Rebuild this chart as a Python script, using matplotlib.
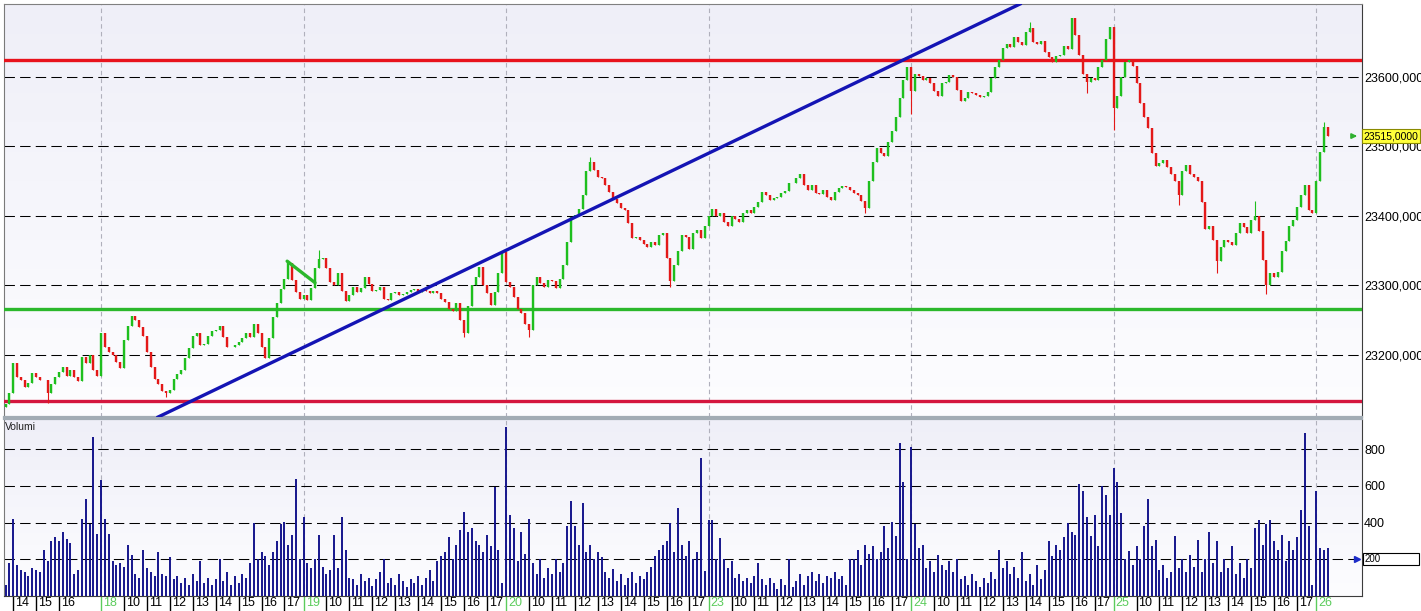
import numpy as np
import matplotlib.pyplot as plt
from matplotlib.colors import LinearSegmentedColormap
from matplotlib.transforms import blended_transform_factory, offset_copy
from matplotlib.patches import Rectangle

plt.rcParams['font.family'] = ['Liberation Sans Narrow', 'Liberation Sans', 'DejaVu Sans']

# sessions shown, 10-minute bars, 53 slots per session (9:00 -> 17:50)
SLOTS = 53
days = ['17', '18', '19', '20', '23', '24', '25', '26']
first_slot = [28, 0, 0, 0, 0, 0, 0, 0]
hour_labels = ['10', '11', '12', '13', '14', '15', '16', '17']
first_day_hours = ['14', '15', '16']

open_first = 23125

close_17 = [23130, 23145, 23188, 23168, 23164, 23154, 23160, 23174, 23168, 23164,
            23164, 23145, 23158, 23168, 23176, 23183, 23170, 23178, 23168, 23162,
            23197, 23188, 23200, 23178, 23170]
close_18 = [23232, 23212, 23205, 23200, 23190, 23182, 23222, 23242, 23256, 23250,
            23240, 23228, 23205, 23183, 23166, 23158, 23148, 23145, 23150, 23165,
            23172, 23178, 23195, 23210, 23228, 23232, 23214, 23216, 23228, 23234,
            23236, 23242, 23226, 23212, 23212, 23215, 23219, 23224, 23232, 23226,
            23244, 23232, 23212, 23196, 23225, 23255, 23275, 23295, 23310, 23332,
            23308, 23290, 23280]
close_19 = [23287, 23279, 23296, 23325, 23338, 23340, 23325, 23305, 23300, 23318,
            23292, 23277, 23287, 23298, 23290, 23296, 23312, 23302, 23292, 23293,
            23298, 23281, 23279, 23289, 23291, 23286, 23288, 23290, 23293, 23295,
            23290, 23294, 23292, 23289, 23292, 23289, 23280, 23276, 23266, 23264,
            23275, 23250, 23232, 23270, 23300, 23312, 23326, 23300, 23289, 23272,
            23290, 23318, 23348]
close_20 = [23305, 23298, 23284, 23266, 23260, 23245, 23236, 23300, 23312, 23304,
            23298, 23308, 23306, 23296, 23310, 23330, 23362, 23398, 23402, 23410,
            23430, 23465, 23478, 23466, 23456, 23454, 23444, 23434, 23424, 23419,
            23412, 23408, 23390, 23368, 23370, 23365, 23360, 23355, 23362, 23358,
            23372, 23376, 23340, 23306, 23330, 23350, 23372, 23370, 23353, 23376,
            23380, 23368, 23385]
close_23 = [23400, 23410, 23400, 23404, 23392, 23386, 23400, 23396, 23392, 23404,
            23409, 23405, 23413, 23420, 23435, 23430, 23423, 23426, 23428, 23433,
            23436, 23448, 23447, 23455, 23461, 23445, 23437, 23444, 23433, 23431,
            23437, 23428, 23423, 23435, 23440, 23443, 23442, 23437, 23433, 23430,
            23422, 23412, 23450, 23478, 23498, 23490, 23486, 23506, 23522, 23543,
            23570, 23596, 23614]
close_24 = [23580, 23605, 23602, 23596, 23598, 23591, 23580, 23572, 23592, 23593,
            23603, 23600, 23581, 23566, 23570, 23579, 23577, 23574, 23571, 23572,
            23578, 23598, 23614, 23625, 23642, 23648, 23643, 23658, 23650, 23646,
            23665, 23670, 23650, 23648, 23652, 23636, 23629, 23622, 23630, 23632,
            23645, 23640, 23685, 23660, 23632, 23605, 23593, 23598, 23595, 23615,
            23625, 23655, 23672]
close_25 = [23555, 23572, 23600, 23621, 23624, 23616, 23592, 23562, 23542, 23527,
            23490, 23472, 23476, 23480, 23471, 23461, 23450, 23430, 23465, 23474,
            23461, 23456, 23450, 23420, 23382, 23385, 23365, 23335, 23355, 23366,
            23362, 23358, 23376, 23390, 23384, 23376, 23394, 23400, 23378, 23336,
            23300, 23318, 23312, 23320, 23350, 23364, 23385, 23394, 23413, 23430,
            23445, 23408, 23404]
close_26 = [23450, 23492, 23528, 23515]

# bars whose wicks reach clearly beyond the body (sequence index, price)
high_idx = [82, 153, 268, 327, 345]
high_val = [23351, 23485, 23679, 23422, 23535]
low_idx = [11, 42, 120, 137, 174, 225, 237, 283, 290, 307, 317, 330]
low_val = [23131, 23140, 23226, 23226, 23298, 23405, 23547, 23577, 23524, 23416, 23318, 23288]

vol_17 = [60, 180, 420, 170, 140, 130, 110, 150, 140, 130, 250, 190, 300, 320, 300,
          350, 310, 290, 120, 140, 420, 530, 390, 865, 340]
vol_18 = [630, 420, 340, 190, 170, 180, 160, 280, 225, 120, 100, 250, 150, 130, 110,
          240, 120, 110, 215, 90, 110, 70, 100, 60, 120, 80, 190, 70, 100, 60,
          90, 200, 80, 130, 60, 110, 70, 120, 100, 180, 400, 200, 240, 220, 170,
          240, 300, 390, 405, 280, 330, 640, 200]
vol_19 = [430, 180, 150, 200, 330, 160, 120, 140, 330, 150, 430, 250, 100, 90, 60,
          120, 80, 100, 55, 90, 130, 200, 70, 100, 60, 120, 80, 50, 90, 70,
          110, 60, 100, 140, 80, 190, 220, 240, 320, 200, 280, 360, 460, 350, 370,
          300, 280, 240, 330, 270, 595, 250, 70]
vol_20 = [920, 440, 370, 190, 350, 230, 420, 180, 120, 200, 100, 150, 120, 200, 130,
          180, 380, 520, 380, 280, 505, 240, 280, 200, 240, 210, 130, 100, 145, 80,
          120, 60, 100, 130, 70, 110, 90, 130, 160, 220, 250, 280, 300, 400, 240,
          480, 280, 220, 300, 200, 240, 750, 135]
vol_23 = [415, 415, 200, 315, 200, 150, 190, 100, 120, 80, 100, 70, 110, 180, 90,
          60, 100, 70, 40, 90, 60, 200, 50, 80, 120, 60, 110, 130, 80, 120,
          70, 110, 100, 130, 90, 110, 60, 200, 200, 250, 170, 280, 230, 270, 200,
          240, 380, 260, 405, 325, 835, 620, 200]
vol_24 = [810, 395, 260, 280, 150, 190, 130, 225, 170, 140, 190, 130, 200, 90, 110,
          60, 120, 80, 50, 100, 70, 130, 90, 250, 150, 190, 120, 160, 100, 240,
          80, 120, 60, 170, 90, 140, 300, 220, 280, 250, 320, 400, 350, 330, 610,
          575, 430, 325, 440, 270, 600, 550, 440]
vol_25 = [700, 620, 450, 200, 245, 170, 270, 200, 380, 530, 270, 305, 140, 170, 100,
          130, 325, 150, 200, 130, 225, 160, 305, 130, 200, 350, 180, 300, 130, 200,
          150, 270, 120, 180, 100, 200, 150, 370, 415, 280, 390, 415, 300, 250, 330,
          190, 300, 250, 320, 470, 890, 380, 60]
vol_26 = [575, 260, 250, 260]

# drawn lines: support / resistance levels, trendline, small pattern line
resist_top = 23625
support_bottom = 23134
support_green = 23266
trend_x = [68.4, 293.5]
trend_y = [23112, 23705]
flag_x = [101.7, 109.0]
flag_y = [23335, 23304]
last_price = 23515
last_volume = 200

price_ticks = [23200, 23300, 23400, 23500, 23600]
volume_ticks = [400, 600, 800]

closes_by_day = [close_17, close_18, close_19, close_20, close_23, close_24, close_25, close_26]
vols_by_day = [vol_17, vol_18, vol_19, vol_20, vol_23, vol_24, vol_25, vol_26]

x = []
for d, cl in enumerate(closes_by_day):
    x += [d * SLOTS + first_slot[d] + k for k in range(len(cl))]
x = np.array(x)
close = np.array(sum(closes_by_day, []), dtype=float)
vol = np.array(sum(vols_by_day, []), dtype=float)
opn = np.concatenate([[open_first], close[:-1]])
high = np.maximum(opn, close)
low = np.minimum(opn, close)
high[high_idx] = high_val
low[low_idx] = low_val
up = close >= opn

W, H = 1421, 611
fig = plt.figure(figsize=(W / 100, H / 100), dpi=100)
ax_p = fig.add_axes([4 / W, 1 - 417 / H, 1358 / W, 413 / H])
ax_v = fig.add_axes([4 / W, 1 - 596 / H, 1358 / W, 177 / H])

xlim = (27.6, 383.0)
bg = LinearSegmentedColormap.from_list('bg', ['#efeff8', '#fdfdff'])
for ax in (ax_p, ax_v):
    ax.imshow(np.linspace(0, 1, 256).reshape(-1, 1), cmap=bg, extent=[0, 1, 0, 1],
              transform=ax.transAxes, aspect='auto', zorder=0)
    ax.set_xlim(*xlim)
    ax.set_xticks([])
    ax.yaxis.tick_right()
    ax.tick_params(axis='y', length=0, pad=1.5, labelsize=9)
    for d in range(1, len(days)):
        ax.axvline(d * SLOTS, color='#b0b0bc', lw=0.8, dashes=(4, 3), zorder=1)
    ax.spines['left'].set_color('#7a7a7a')
    ax.spines['right'].set_color('#3c3c3c')

# price panel
ax_p.set_ylim(23110.8, 23705)
ax_p.set_yticks(price_ticks)
ax_p.set_yticklabels([f'{v},0000' for v in price_ticks])
for v in price_ticks:
    ax_p.axhline(v, color='black', lw=0.75, dashes=(10, 5), zorder=1)
ax_p.spines['top'].set_color('#808080')
ax_p.spines['bottom'].set_color('#a2acb4')
ax_p.spines['bottom'].set_linewidth(1.6)

ax_p.axhline(resist_top, color='#e8121c', lw=2.4, zorder=3)
ax_p.axhline(support_bottom, color='#d4163e', lw=2.4, zorder=3)
ax_p.axhline(support_green, color='#2cb82c', lw=2.4, zorder=3)

green, red = '#1ebf1e', '#e31818'
cols = np.where(up, green, red)
ax_p.vlines(x, low, high, colors=cols, lw=0.8, zorder=4)
ax_p.vlines(x, np.minimum(opn, close), np.maximum(opn, close), colors=cols, lw=1.7, zorder=4)

ax_p.axline((trend_x[0], trend_y[0]), (trend_x[1], trend_y[1]), color='#1414b4', lw=2.4, zorder=5)
ax_p.plot(flag_x, flag_y, color='#2cb82c', lw=2.4, zorder=5, solid_capstyle='round')

# last price tag
ax_p.annotate('', xy=(0.9985, last_price), xytext=(0.9915, last_price),
              xycoords=('axes fraction', 'data'),
              arrowprops=dict(arrowstyle='-|>', color='#30b030', lw=1.4, mutation_scale=7))
ax_p.text(1.0012, last_price, f'{last_price},0000', transform=ax_p.get_yaxis_transform(),
          fontsize=7.5, va='center', ha='left', zorder=6,
          bbox=dict(boxstyle='square,pad=0.15', fc='#ffff3a', ec='#8a8a00', lw=0.8))

# volume panel
ax_v.set_ylim(0, 965)
ax_v.set_yticks(volume_ticks)
ax_v.set_yticklabels([str(v) for v in volume_ticks])
for v in volume_ticks + [last_volume]:
    ax_v.axhline(v, color='black', lw=0.75, dashes=(10, 5), zorder=1)
ax_v.vlines(x, 0, vol, color='#15158c', lw=1.4, zorder=3)
ax_v.spines['top'].set_color('#a2acb4')
ax_v.spines['top'].set_linewidth(1.6)
ax_v.spines['bottom'].set_color('#3c3c3c')
ax_v.text(0.0008, 0.955, 'Volumi', transform=ax_v.transAxes, fontsize=7.5,
          va='center', ha='left', color='#202020')

yt = ax_v.get_yaxis_transform()
ax_v.plot([1.0], [last_volume], marker='>', color='#1c2cc8', markersize=5,
          transform=offset_copy(yt, fig=fig, x=-5, y=0, units='dots'), clip_on=False)
ax_v.add_patch(Rectangle((1.0007, last_volume - 33), 0.0412, 66, transform=yt,
                         fc='white', ec='black', lw=0.8, clip_on=False, zorder=6))
ax_v.text(1.0017, last_volume, str(last_volume), transform=yt, fontsize=7,
          va='center', ha='left', zorder=7)

# time axis: day markers in green, hours in black
blend = blended_transform_factory(ax_v.transData, ax_v.transAxes)
lab_tr = offset_copy(blend, fig=fig, x=2, y=-1, units='dots')
tick_x, tick_lab, tick_col = [], [], []
for d, day in enumerate(days):
    start = d * SLOTS
    if d == 0:
        hrs = first_day_hours
    elif d == len(days) - 1:
        hrs = []
    else:
        hrs = hour_labels
    if start >= xlim[0]:
        tick_x.append(start); tick_lab.append(day); tick_col.append('#5ccc5c')
    for h in hrs:
        tick_x.append(start + 6 * (int(h) - 9)); tick_lab.append(h); tick_col.append('black')
ax_v.vlines(tick_x, -0.085, 0, colors=tick_col, lw=1, transform=blend, clip_on=False)
for tx, tl, tc in zip(tick_x, tick_lab, tick_col):
    ax_v.text(tx, 0, tl, transform=lab_tr, fontsize=9, color=tc, ha='left', va='top')

fig.savefig('out.png', dpi=100)
